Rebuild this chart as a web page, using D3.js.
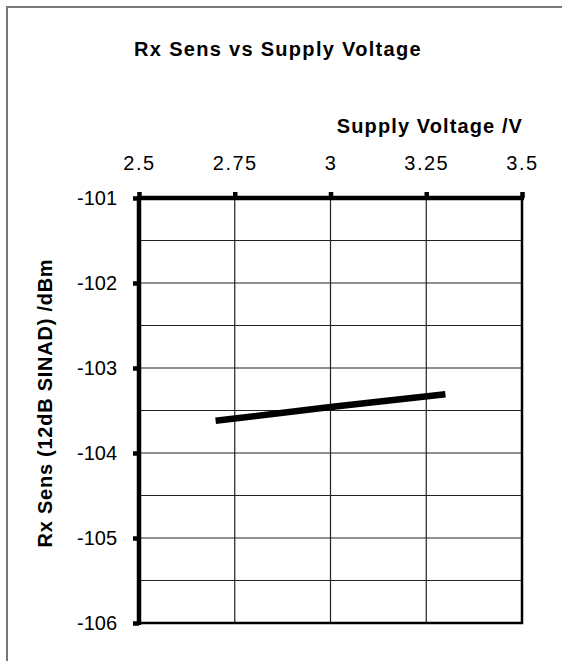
<!DOCTYPE html>
<html>
<head>
<meta charset="utf-8">
<script src="https://cdn.jsdelivr.net/npm/d3@7"></script>
<style>
  html, body { margin: 0; background: #fff; overflow: hidden; }
  svg { display: block; }
  svg text { font-family: Arial, "Liberation Sans", sans-serif; fill: #000; }
</style>
</head>
<body>
<div id="chart"></div>
<script>
// data
var voltages = [2.7, 3.0, 3.3];
var rxSens = [-103.62, -103.46, -103.31];
var xTicks = [2.5, 2.75, 3, 3.25, 3.5];
var yTicks = [-101, -102, -103, -104, -105, -106];
var yGrid = [-101.5, -102, -102.5, -103, -103.5, -104, -104.5, -105, -105.5];

var width = 562, height = 661;

var svg = d3.select('#chart')
    .append('svg')
    .attr('width', width)
    .attr('height', height);

// outer frame (only top and left edges visible)
svg.append('path')
    .attr('d', 'M7,' + height + 'V7H' + width)
    .attr('fill', 'none')
    .attr('stroke', '#777')
    .attr('stroke-width', 2);

var x = d3.scaleLinear().domain([2.5, 3.5]).range([139, 522]);
var y = d3.scaleLinear().domain([-101, -106]).range([198, 623]);

// grid
svg.append('g')
    .selectAll('line.h')
    .data(yGrid)
    .enter()
    .append('line')
    .attr('x1', x(2.5)).attr('x2', x(3.5))
    .attr('y1', function(d) { return y(d); })
    .attr('y2', function(d) { return y(d); })
    .attr('stroke', '#222')
    .attr('stroke-width', 1.2);

svg.append('g')
    .selectAll('line.v')
    .data(xTicks.slice(1, -1))
    .enter()
    .append('line')
    .attr('y1', y(-101)).attr('y2', y(-106))
    .attr('x1', function(d) { return x(d); })
    .attr('x2', function(d) { return x(d); })
    .attr('stroke', '#222')
    .attr('stroke-width', 1.2);

// right and bottom edges of the plot
svg.append('path')
    .attr('d', 'M' + x(3.5) + ',' + y(-101) + 'V' + y(-106) + 'H' + x(2.5))
    .attr('fill', 'none')
    .attr('stroke', '#000')
    .attr('stroke-width', 2.5);

// top axis
var xAxis = svg.append('g')
    .attr('transform', 'translate(0,' + y(-101) + ')')
    .call(d3.axisTop(x).tickValues(xTicks).tickSize(6).tickSizeOuter(0).tickPadding(22)
        .tickFormat(function(d) { return String(d); }));
xAxis.select('.domain').attr('stroke', '#000').attr('stroke-width', 4.5)
    .attr('d', 'M' + (x(2.5) - 2) + ',0H' + (x(3.5) + 2));
xAxis.selectAll('.tick line').attr('stroke', '#000').attr('stroke-width', 4.5);
xAxis.selectAll('.tick text')
    .style('font-size', '20px')
    .style('letter-spacing', '1.5px');

// left axis
var yAxis = svg.append('g')
    .attr('transform', 'translate(' + x(2.5) + ',0)')
    .call(d3.axisLeft(y).tickValues(yTicks).tickSize(6).tickSizeOuter(0).tickPadding(16)
        .tickFormat(d3.format('d')));
yAxis.select('.domain').attr('stroke', '#000').attr('stroke-width', 4.5)
    .attr('d', 'M0,' + (y(-101) - 2) + 'V' + (y(-106) + 2));
yAxis.selectAll('.tick line').attr('stroke', '#000').attr('stroke-width', 4.5);
yAxis.selectAll('.tick text')
    .style('font-size', '20px')
    .text(function(d) { return '-' + Math.abs(d); });

// data line
var pts = voltages.map(function(v, i) { return [v, rxSens[i]]; });
svg.append('path')
    .datum(pts)
    .attr('fill', 'none')
    .attr('stroke', '#000')
    .attr('stroke-width', 6.5)
    .attr('d', d3.line()
        .x(function(d) { return x(d[0]); })
        .y(function(d) { return y(d[1]); }));

// titles
svg.append('text')
    .attr('x', 278)
    .attr('y', 56)
    .attr('text-anchor', 'middle')
    .style('font-size', '20px')
    .style('font-weight', 'bold')
    .style('letter-spacing', '1.3px')
    .text('Rx Sens vs Supply Voltage');

svg.append('text')
    .attr('x', 523)
    .attr('y', 133)
    .attr('text-anchor', 'end')
    .style('font-size', '20px')
    .style('font-weight', 'bold')
    .style('letter-spacing', '1.1px')
    .text('Supply Voltage /V');

svg.append('text')
    .attr('transform', 'translate(52,403) rotate(-90)')
    .attr('text-anchor', 'middle')
    .style('font-size', '20px')
    .style('font-weight', 'bold')
    .style('letter-spacing', '0.75px')
    .text('Rx Sens (12dB SINAD) /dBm');
</script>
</body>
</html>
